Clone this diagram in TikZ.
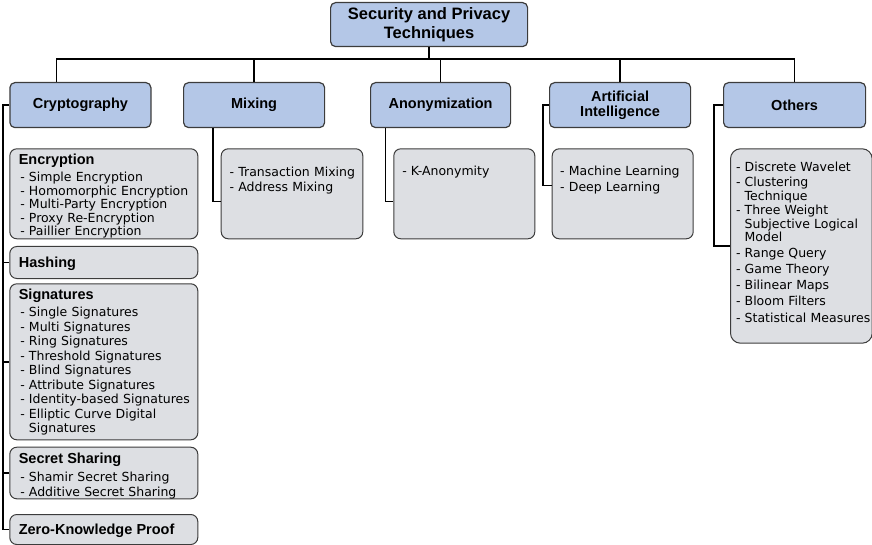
\documentclass[tikz,border=0pt]{standalone}
\usepackage{fontspec}
\setmainfont{Liberation Sans}
\newfontfamily\itemfont{DejaVu Sans}
\usepackage{xcolor}
\definecolor{box_blue}{HTML}{B4C7E7}
\definecolor{box_gray}{HTML}{DDDFE3}
\definecolor{box_edge}{HTML}{3C3C3C}
\usetikzlibrary{positioning,calc}
\tikzset{ROOT/.style={rectangle,rounded corners=5pt,draw=box_edge,line width=1.2pt,fill=box_blue,minimum width=197pt,minimum height=44pt,align=center,font=\fontsize{16.5}{19}\selectfont\bfseries,anchor=north west}}
\tikzset{CATEGORY/.style={rectangle,rounded corners=5pt,draw=box_edge,line width=1.2pt,fill=box_blue,minimum width=141pt,minimum height=45pt,align=center,font=\fontsize{14.5}{14.5}\selectfont\bfseries,anchor=north west}}
\tikzset{LIST/.style={rectangle,rounded corners=7pt,draw=box_edge,line width=1pt,fill=box_gray,align=left,inner ysep=0pt,font=\itemfont\fontsize{12.5}{13.5}\selectfont,anchor=north west}}
\tikzset{LINK/.style={line width=1.6pt}}
\newcommand{\ltitle}[1]{\mbox{\rmfamily\bfseries\fontsize{14.5}{14.5}\selectfont #1}}
\newcommand{\litem}[1]{\mbox{\hspace{1.5pt}- #1}}
\newcommand{\lmore}[1]{\mbox{\hspace{1.5pt}\phantom{- }#1}}

\begin{document}
\begin{tikzpicture}[x=1pt,y=-1pt]
\useasboundingbox (0,0) rectangle (872,545);

\node[ROOT] (n_root) at (330,2) {Security and Privacy\\Techniques};

\node[CATEGORY] (n_crypto) at (9.3,82) {Cryptography};
\node[CATEGORY] (n_mixing) at (183,82) {Mixing};
\node[CATEGORY, minimum width=140pt] (n_anon) at (370,82) {Anonymization};
\node[CATEGORY] (n_ai) at (549,82) {Artificial\\Intelligence};
\node[CATEGORY, minimum width=142pt] (n_others) at (723,82) {Others};

\node[LIST, inner xsep=9pt, text width=170pt, text height=15.9pt, text depth=74.1pt] (n_encryption) at (9.3,148.3) {
    \ltitle{Encryption}\\[3.8pt]
    \litem{Simple Encryption}\\
    \litem{Homomorphic Encryption}\\
    \litem{Multi-Party Encryption}\\
    \litem{Proxy Re-Encryption}\\
    \litem{Paillier Encryption}
};
\node[LIST, inner xsep=9pt, text width=170pt, text height=21.2pt, text depth=10.8pt] (n_hashing) at (9.3,246) {\ltitle{Hashing}};
\node[LIST, inner xsep=9pt, text width=170pt, text height=15.9pt, text depth=140.1pt, font=\itemfont\fontsize{12.5}{14.5}\selectfont] (n_signatures) at (9.3,283.3) {
    \ltitle{Signatures}\\[2.5pt]
    \litem{Single Signatures}\\
    \litem{Multi Signatures}\\
    \litem{Ring Signatures}\\
    \litem{Threshold Signatures}\\
    \litem{Blind Signatures}\\
    \litem{Attribute Signatures}\\
    \litem{Identity-based Signatures}\\
    \litem{Elliptic Curve Digital}\\
    \lmore{Signatures}
};
\node[LIST, inner xsep=9pt, text width=170pt, text height=16.5pt, text depth=35.1pt, font=\itemfont\fontsize{12.5}{15}\selectfont] (n_secret) at (9.3,446.7) {
    \ltitle{Secret Sharing}\\[3pt]
    \litem{Shamir Secret Sharing}\\
    \litem{Additive Secret Sharing}
};
\node[LIST, inner xsep=9pt, text width=170pt, text height=20.2pt, text depth=9.8pt] (n_zkp) at (9.3,514) {\ltitle{Zero-Knowledge Proof}};

\node[LIST, inner xsep=7pt, text width=127.6pt, text height=28.2pt, text depth=61.8pt, font=\itemfont\fontsize{12.5}{15}\selectfont] (n_mix_list) at (220.7,148.3) {
    \litem{Transaction Mixing}\\
    \litem{Address Mixing}
};
\node[LIST, inner xsep=7pt, text width=127pt, text height=27.2pt, text depth=62.8pt] (n_anon_list) at (393.3,148.3) {\litem{K-Anonymity}};
\node[LIST, inner xsep=6.5pt, text width=128pt, text height=27.2pt, text depth=62.8pt, font=\itemfont\fontsize{12.5}{16}\selectfont] (n_ai_list) at (551.7,148.3) {
    \litem{Machine Learning}\\
    \litem{Deep Learning}
};
\node[LIST, inner xsep=4pt, text width=133.7pt, text height=23.2pt, text depth=171.2pt, rounded corners=10pt] (n_other_list) at (730,148.3) {
    \litem{Discrete Wavelet}\\[1.5pt]
    \litem{Clustering}\\
    \lmore{Technique}\\[0.5pt]
    \litem{Three Weight}\\[0.5pt]
    \lmore{Subjective Logical}\\
    \lmore{Model}\\[2.5pt]
    \litem{Range Query}\\[2.5pt]
    \litem{Game Theory}\\[2.5pt]
    \litem{Bilinear Maps}\\[2.5pt]
    \litem{Bloom Filters}\\[3.5pt]
    \litem{Statistical Measures}
};

\coordinate (c_bus) at (0,59);
\coordinate (c_crypto_top) at ($(n_crypto.north west)+(47,0)$);
\draw[LINK] (n_root.south) -- (n_root.south |- c_bus);
\draw[LINK] (c_crypto_top) |- (c_bus -| n_others.north) -- (n_others.north);
\foreach \n in {mixing,anon,ai}
    \draw[LINK] (c_bus -| n_\n.north) -- (n_\n.north);

\draw[LINK] (n_crypto.west) -- ++(-6.5,0) coordinate (c_crypto_side) |- (n_zkp.west);
\foreach \n in {hashing,signatures,secret}
    \draw[LINK] (c_crypto_side |- n_\n.west) -- (n_\n.west);

\draw[LINK] ($(n_mixing.south west)+(30,0)$) |- ($(n_mix_list.north west)+(0,53.4)$);
\draw[LINK] ($(n_anon.south west)+(15.5,0)$) |- ($(n_anon_list.north west)+(0,53.4)$);
\draw[LINK] (n_ai.west) -- ++(-6,0) |- ($(n_ai_list.north west)+(0,37.4)$);
\draw[LINK] (n_others.west) -- ++(-9,0) |- ($(n_other_list.north west)+(0,97.7)$);

\end{tikzpicture}
\end{document}
